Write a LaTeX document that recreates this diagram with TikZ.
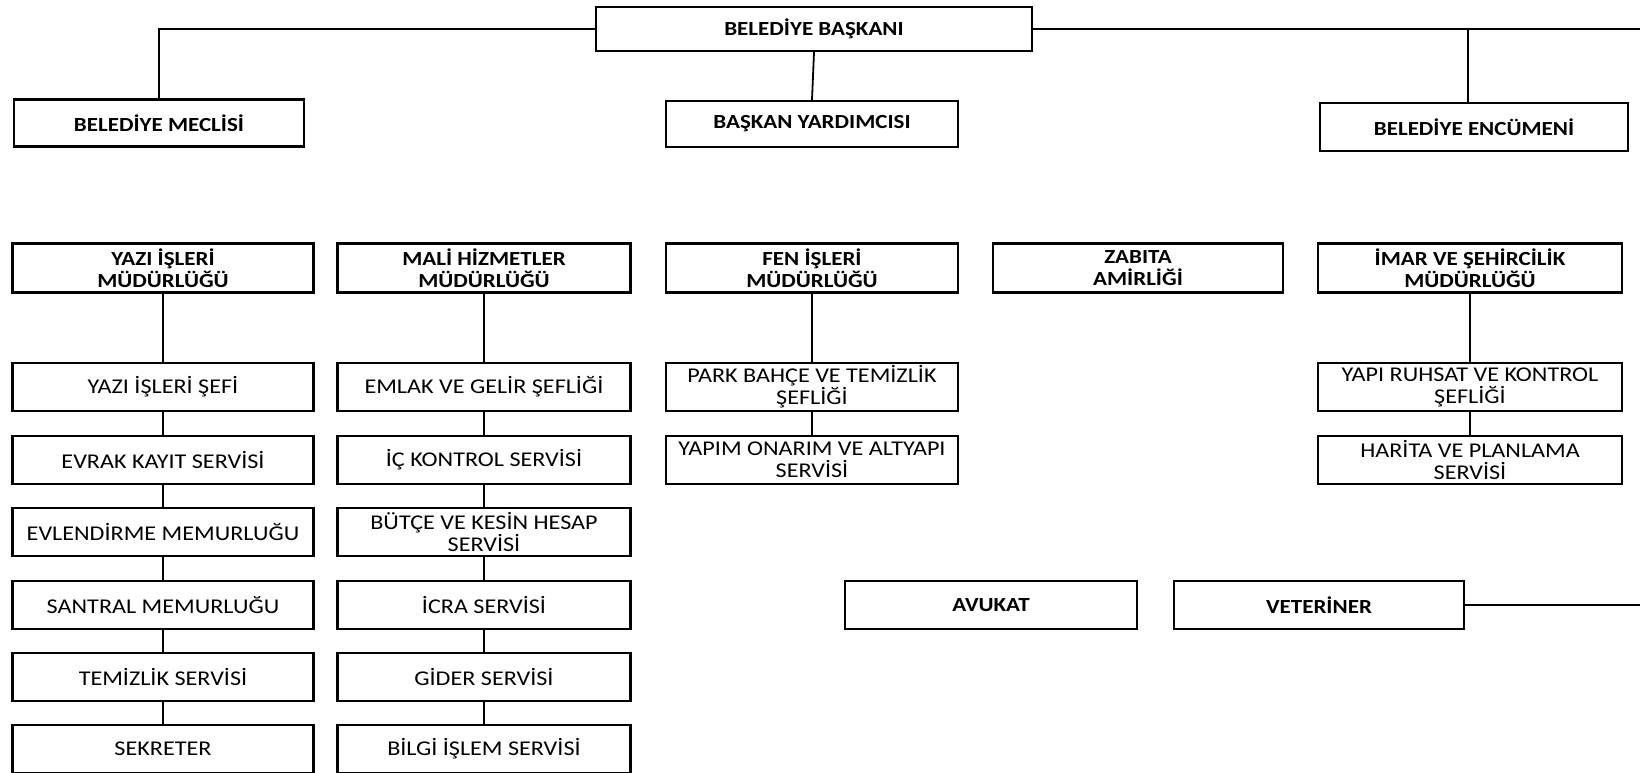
\documentclass[tikz,border=0pt]{standalone}
\usepackage{fontspec}
\setmainfont[FakeStretch=1.15]{Carlito}

\begin{document}
\begin{tikzpicture}[x=1pt, y=-1pt,
    box/.style={draw, line width=2.4pt, rectangle, inner sep=0pt, align=center, minimum height=48pt},
    head/.style={box, font=\fontsize{20}{22}\selectfont\bfseries},
    unit/.style={box, font=\fontsize{21}{22}\selectfont},
    link/.style={line width=1.8pt}]
    \useasboundingbox (0,0) rectangle (1640,773);

    % Top level:
    \node[head, minimum width=436pt, minimum height=44pt] (baskan) at (814,29) {BELEDİYE BAŞKANI};
    \node[head, minimum width=290pt, minimum height=47pt] (meclis) at (159,123) {BELEDİYE MECLİSİ};
    \node[head, minimum width=292pt, minimum height=46pt] (yardimci) at (812,124) {BAŞKAN YARDIMCISI};
    \node[head, minimum width=308pt] (encumen) at (1474,127) {BELEDİYE ENCÜMENİ};
    \coordinate (rtop) at (1640,29);

    \draw[link] (baskan.west) -| (meclis.north);
    \draw[link] (baskan.south) -- (yardimci.north);
    \draw[link] (baskan.east) -- (rtop);
    \draw[link] ([xshift=-6pt]encumen.north) -- ([xshift=-6pt]encumen.north |- rtop);

    % Directorates:
    \node[head, minimum width=301pt, minimum height=49pt] (yazi) at (163,268) {YAZI İŞLERİ\\MÜDÜRLÜĞÜ};
    \node[head, minimum width=293pt, minimum height=49pt] (mali) at (484,268) {MALİ HİZMETLER\\MÜDÜRLÜĞÜ};
    \node[head, minimum width=292pt, minimum height=49pt] (fen) at (812,268) {FEN İŞLERİ\\MÜDÜRLÜĞÜ};
    \node[head, minimum width=290pt, minimum height=49pt] (zabita) at (1138,268) {ZABITA\\AMİRLİĞİ};
    \node[head, minimum width=304pt, minimum height=49pt] (imar) at (1470,268) {İMAR VE ŞEHİRCİLİK\\MÜDÜRLÜĞÜ};

    % Yazı işleri column:
    \node[unit, minimum width=301pt] (yazisef) at (163,387) {YAZI İŞLERİ ŞEFİ};
    \node[unit, minimum width=301pt] (evrak) at (163,460) {EVRAK KAYIT SERVİSİ};
    \node[unit, minimum width=301pt] (evlen) at (163,532) {EVLENDİRME MEMURLUĞU};
    \node[unit, minimum width=301pt] (santral) at (163,605) {SANTRAL MEMURLUĞU};
    \node[unit, minimum width=301pt] (temizlik) at (163,677) {TEMİZLİK SERVİSİ};
    \node[unit, minimum width=301pt] (sekreter) at (163,749) {SEKRETER};
    \draw[link] (yazi) -- (yazisef);
    \draw[link] (yazisef) -- (evrak);
    \draw[link] (evrak) -- (evlen);
    \draw[link] (evlen) -- (santral);
    \draw[link] (santral) -- (temizlik);
    \draw[link] (temizlik) -- (sekreter);

    % Mali hizmetler column:
    \node[unit, minimum width=293pt] (emlak) at (484,387) {EMLAK VE GELİR ŞEFLİĞİ};
    \node[unit, minimum width=293pt] (ickontrol) at (484,460) {İÇ KONTROL SERVİSİ};
    \node[unit, minimum width=293pt] (butce) at (484,532) {BÜTÇE VE KESİN HESAP\\SERVİSİ};
    \node[unit, minimum width=293pt] (icra) at (484,605) {İCRA SERVİSİ};
    \node[unit, minimum width=293pt] (gider) at (484,677) {GİDER SERVİSİ};
    \node[unit, minimum width=293pt] (bilgi) at (484,749) {BİLGİ İŞLEM SERVİSİ};
    \draw[link] (mali) -- (emlak);
    \draw[link] (emlak) -- (ickontrol);
    \draw[link] (ickontrol) -- (butce);
    \draw[link] (butce) -- (icra);
    \draw[link] (icra) -- (gider);
    \draw[link] (gider) -- (bilgi);

    % Fen işleri column:
    \node[unit, minimum width=292pt] (park) at (812,387) {PARK BAHÇE VE TEMİZLİK\\ŞEFLİĞİ};
    \node[unit, minimum width=292pt] (yapim) at (812,460) {YAPIM ONARIM VE ALTYAPI\\SERVİSİ};
    \draw[link] (fen) -- (park);
    \draw[link] (park) -- (yapim);

    % İmar column:
    \node[unit, minimum width=304pt] (ruhsat) at (1470,387) {YAPI RUHSAT VE KONTROL\\ŞEFLİĞİ};
    \node[unit, minimum width=304pt] (harita) at (1470,460) {HARİTA VE PLANLAMA\\SERVİSİ};
    \draw[link] (imar) -- (ruhsat);
    \draw[link] (ruhsat) -- (harita);

    % Staff:
    \node[head, minimum width=292pt] (avukat) at (991,605) {AVUKAT};
    \node[head, minimum width=290pt] (veteriner) at (1319,605) {VETERİNER};
    \coordinate (rvet) at (1640,605);
    \draw[link] (veteriner.east) -- (rvet);
\end{tikzpicture}
\end{document}
